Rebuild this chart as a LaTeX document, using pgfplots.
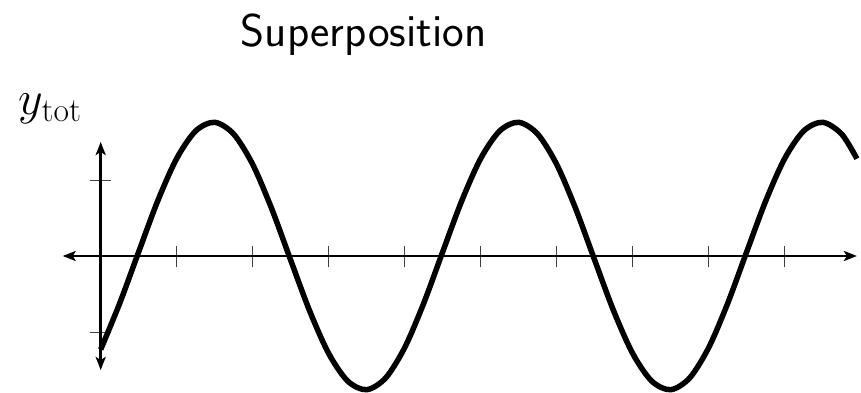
\RequirePackage{fix-cm}
\documentclass[border=0pt]{standalone}
\usepackage{pgfplots}
\pgfplotsset{compat=1.18}
\usetikzlibrary{arrows.meta}
\begin{document}
\begin{tikzpicture}
\begin{axis}[
  x=76pt, y=76pt,
  xmin=-0.5, xmax=9.95, ymin=-1.5, ymax=1.5,
  axis lines*=middle,
  axis line style={line width=2.8pt, {Stealth[length=13pt,width=10pt,inset=3pt]}-{Stealth[length=13pt,width=10pt,inset=3pt]}},
  xtick={1,2,3,4,5,6,7,8,9}, ytick={-1,1},
  xticklabels={}, yticklabels={},
  tick style={line width=1pt, black!75},
  major tick length=21pt,
  tick align=center,
  clip=false,
]
\addplot[line width=5.5pt, black, smooth] coordinates {
(0,-1.23) (0.25,-0.622) (0.5,0.055) (0.75,0.724) (1,1.283) (1.25,1.646) (1.5,1.759) (1.75,1.604)
(2,1.205) (2.25,0.622) (2.5,-0.055) (2.75,-0.724) (3,-1.283) (3.25,-1.646) (3.5,-1.759) (3.75,-1.604)
(4,-1.205) (4.25,-0.622) (4.5,0.055) (4.75,0.724) (5,1.283) (5.25,1.646) (5.5,1.759) (5.75,1.604)
(6,1.205) (6.25,0.622) (6.5,-0.055) (6.75,-0.724) (7,-1.283) (7.25,-1.646) (7.5,-1.759) (7.75,-1.604)
(8,-1.205) (8.25,-0.622) (8.5,0.055) (8.75,0.724) (9,1.283) (9.25,1.646) (9.5,1.759) (9.75,1.604)
(9.95,1.28)
};
\node[font=\fontsize{46}{50}\selectfont\sffamily, anchor=base, inner sep=0pt] at (axis cs:3.46,2.76) {Superposition};
\node[anchor=base west, inner sep=0pt, font=\fontsize{48}{52}\selectfont] at (axis cs:-1.08,1.86) {$y_{\mathrm{tot}}$};
\coordinate (O) at (axis cs:0,0);
\end{axis}
\path[use as bounding box] (O) ++(-100.7pt,-135pt) rectangle ++(861pt,391pt);
\end{tikzpicture}
\end{document}
